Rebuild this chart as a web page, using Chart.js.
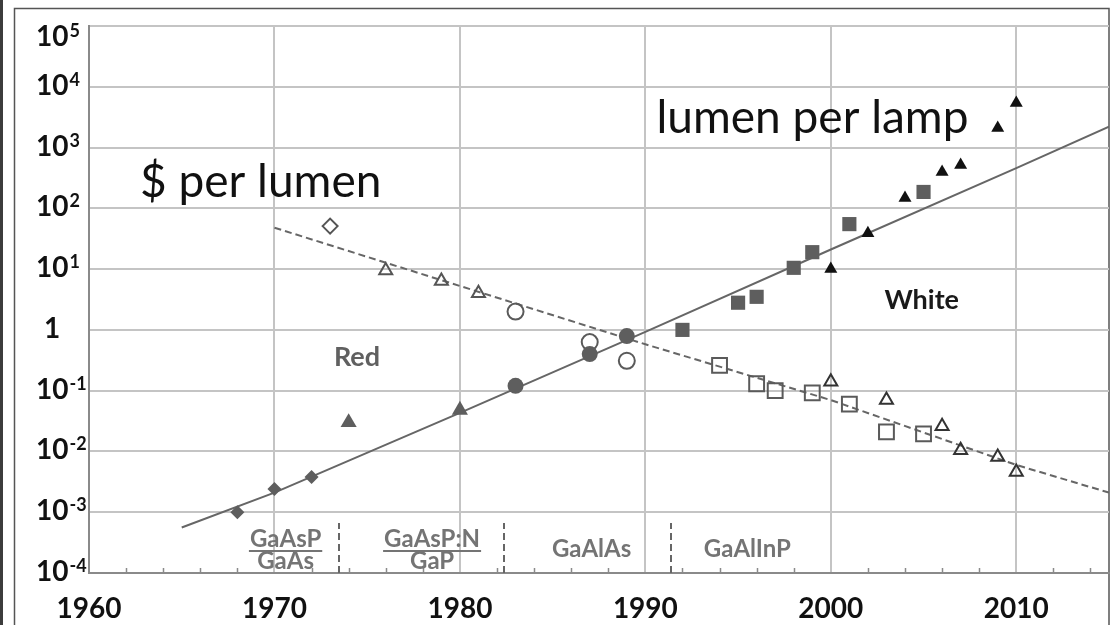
<!DOCTYPE html>
<html lang="en">
<head>
<meta charset="UTF-8">
<title>LED lumen per lamp and $ per lumen</title>
<style>
    html, body { margin: 0; padding: 0; background: #fff; }
    canvas { display: block; }
</style>
</head>
<body>
<canvas id="haitz" width="1112" height="625"></canvas>
<script src="https://cdn.jsdelivr.net/npm/chart.js"></script>
<script>
// axis ticks: decades on x, powers of ten on y (null exponent = plain "1")
const xTicks = [1960, 1970, 1980, 1990, 2000, 2010];
const yTicks = [1e-4, 1e-3, 1e-2, 1e-1, 1, 1e1, 1e2, 1e3, 1e4, 1e5];
const yTickExp = ['-4', '-3', '-2', '-1', null, '1', '2', '3', '4', '5'];

// lumen per lamp, filled markers
const gaaspYears = [1968, 1970, 1972];
const gaaspLumen = [0.001, 0.0024, 0.0038];
const redTriYears = [1974, 1980];
const redTriLumen = [0.03, 0.048];
const redCircYears = [1983, 1987, 1989];
const redCircLumen = [0.12, 0.40, 0.79];
const redSqYears = [1992, 1995, 1996, 1998, 1999, 2001, 2005];
const redSqLumen = [1.0, 2.8, 3.5, 10.5, 19, 55, 186];
const whiteYears = [2000, 2002, 2004, 2006, 2007, 2009, 2010];
const whiteLumen = [10, 39, 148, 396, 518, 2100, 5400];

// $ per lumen, hollow markers
const costDiaYears = [1973];
const costDiaVal = [51];
const costTriYears = [1976, 1979, 1981];
const costTriVal = [9.5, 6.4, 4.0];
const costCircYears = [1983, 1987, 1989];
const costCircVal = [2.0, 0.63, 0.31];
const costSqYears = [1994, 1996, 1997, 1999, 2001, 2003, 2005];
const costSqVal = [0.26, 0.13, 0.10, 0.092, 0.060, 0.021, 0.0195];
const costWhiteYears = [2000, 2003, 2006, 2007, 2009, 2010];
const costWhiteVal = [0.14, 0.070, 0.026, 0.0105, 0.0081, 0.0046];

// trend lines
const lampTrendYears = [1965, 1970, 1980, 1990, 2000, 2010, 2015];
const lampTrend = [5.6e-4, 2.1e-3, 0.043, 0.93, 21, 460, 2200];
const costTrendYears = [1970, 1990, 2000, 2010, 2015];
const costTrend = [48, 0.58, 0.07, 0.006, 0.0021];

const pts = (xs, ys) => xs.map((x, i) => ({ x: x, y: ys[i] }));

const DARK = '#5e5e5e';
const filled = (data, style, r, color) => ({
    data: data, pointStyle: style, pointRadius: r, pointBackgroundColor: color,
    pointBorderColor: color, pointBorderWidth: 0, showLine: false
});
const hollow = (data, style, r, color) => ({
    data: data, pointStyle: style, pointRadius: r, pointBackgroundColor: 'rgba(0,0,0,0)',
    pointBorderColor: color, pointBorderWidth: 2, showLine: false
});

// frame, y labels, minor ticks, material bands and text notes
const decor = {
    id: 'decor',
    beforeDraw(chart) {
        const c = chart.ctx;
        c.save();
        c.fillStyle = '#fff';
        c.fillRect(0, 0, chart.width, chart.height);
        c.fillStyle = '#3c3c3c';
        c.fillRect(0, 0, 3, chart.height);
        c.strokeStyle = '#555';
        c.lineWidth = 1.5;
        c.strokeRect(14.5, 8.5, chart.width - 17.5, chart.height + 20);
        c.restore();
    },
    afterDraw(chart) {
        const c = chart.ctx;
        const x = chart.scales.x, y = chart.scales.y;
        const area = chart.chartArea;
        c.save();

        // minor ticks every 2 years, pointing up into the plot
        c.strokeStyle = '#8a8a8a';
        c.lineWidth = 1.5;
        for (let yr = x.min + 2; yr < x.max; yr += 2) {
            if (yr % 10 === 0) continue;
            const px = Math.round(x.getPixelForValue(yr)) + 0.5;
            c.beginPath();
            c.moveTo(px, area.bottom);
            c.lineTo(px, area.bottom - 5);
            c.stroke();
        }

        // y axis labels with superscripts
        c.fillStyle = '#111';
        c.textAlign = 'left';
        c.textBaseline = 'alphabetic';
        yTicks.forEach((v, i) => {
            let py = y.getPixelForValue(v) - 2;
            if (i === yTicks.length - 1) py += 12;
            const exp = yTickExp[i];
            c.font = 'bold 28px Lato';
            if (exp === null) {
                c.fillText('1', 44, py + 10);
                return;
            }
            c.fillText('10', 36, py + 10);
            const w = c.measureText('10').width;
            c.font = 'bold 18px Lato';
            c.fillText(exp, 36 + w + 1, py + 1);
        });

        // material separators
        c.strokeStyle = '#666';
        c.lineWidth = 2;
        c.setLineDash([7, 4]);
        [1973.5, 1982.4, 1991.4].forEach(yr => {
            const px = Math.round(x.getPixelForValue(yr));
            c.beginPath();
            c.moveTo(px, area.bottom);
            c.lineTo(px, area.bottom - 50);
            c.stroke();
        });
        c.setLineDash([]);

        // material names
        c.fillStyle = '#747474';
        c.strokeStyle = '#747474';
        c.font = 'bold 24px Lato';
        c.textAlign = 'center';
        [['GaAsP', 'GaAs', 1970.6], ['GaAsP:N', 'GaP', 1978.5]].forEach(m => {
            const px = x.getPixelForValue(m[2]);
            c.fillText(m[0], px, area.bottom - 26);
            c.fillText(m[1], px, area.bottom - 4);
            const w = Math.max(c.measureText(m[0]).width, c.measureText(m[1]).width) + 2;
            c.lineWidth = 2;
            c.beginPath();
            c.moveTo(px - w / 2, area.bottom - 22);
            c.lineTo(px + w / 2, area.bottom - 22);
            c.stroke();
        });
        [['GaAlAs', 1987.1], ['GaAlInP', 1995.5]].forEach(m => {
            c.fillText(m[0], x.getPixelForValue(m[1]), area.bottom - 16);
        });

        // big notes
        c.textAlign = 'left';
        c.fillStyle = '#111';
        c.font = '46px Lato';
        c.fillText('$ per lumen', x.getPixelForValue(1962.75), y.getPixelForValue(Math.pow(10, 2.19)));
        c.fillText('lumen per lamp', x.getPixelForValue(1990.6), y.getPixelForValue(Math.pow(10, 3.24)));

        c.textAlign = 'center';
        c.textBaseline = 'middle';
        c.font = 'bold 27px Lato';
        c.fillStyle = '#606060';
        c.fillText('Red', x.getPixelForValue(1974.45), y.getPixelForValue(0.35));
        c.fillStyle = '#1a1a1a';
        c.fillText('White', x.getPixelForValue(2004.9), y.getPixelForValue(3.1));
        c.restore();
    }
};

const ctx = document.getElementById('haitz').getContext('2d');
const haitzChart = new Chart(ctx, {
    type: 'scatter',
    data: {
        datasets: [
            filled(pts(whiteYears, whiteLumen), 'triangle', 7.5, '#111'),
            filled(pts(redSqYears, redSqLumen), 'rect', 10, DARK),
            filled(pts(redCircYears, redCircLumen), 'circle', 8, DARK),
            filled(pts(redTriYears, redTriLumen), 'triangle', 9.3, DARK),
            filled(pts(gaaspYears, gaaspLumen), 'rectRot', 7, DARK),
            hollow(pts(costWhiteYears, costWhiteVal), 'triangle', 7.5, '#333'),
            hollow(pts(costSqYears, costSqVal), 'rect', 10.5, '#5a5a5a'),
            hollow(pts(costCircYears, costCircVal), 'circle', 8, '#5a5a5a'),
            hollow(pts(costTriYears, costTriVal), 'triangle', 7.5, '#555'),
            hollow(pts(costDiaYears, costDiaVal), 'rectRot', 7.5, '#555'),
            {
                data: pts(lampTrendYears, lampTrend), showLine: true, pointRadius: 0,
                borderColor: '#666', borderWidth: 2
            },
            {
                data: pts(costTrendYears, costTrend), showLine: true, pointRadius: 0,
                borderColor: '#666', borderWidth: 2, borderDash: [7, 4]
            }
        ]
    },
    options: {
        responsive: false,
        animation: false,
        layout: { autoPadding: false, padding: { top: 26, right: 3, left: 0, bottom: 0 } },
        plugins: { legend: { display: false }, tooltip: { enabled: false } },
        scales: {
            x: {
                type: 'linear',
                min: 1960,
                max: 2015,
                afterBuildTicks: s => { s.ticks = xTicks.map(v => ({ value: v })); },
                afterFit: s => { s.height = 52; s.paddingLeft = 0; s.paddingRight = 0; },
                ticks: {
                    autoSkip: false,
                    maxRotation: 0,
                    padding: 19,
                    color: '#111',
                    font: { family: 'Lato', size: 28, weight: 'bold' },
                    callback: v => String(v)
                },
                grid: { drawTicks: false, lineWidth: 2, color: '#c4c4c4' },
                border: { color: '#8a8a8a', width: 2 }
            },
            y: {
                type: 'logarithmic',
                min: 1e-4,
                max: 1e5,
                afterBuildTicks: s => { s.ticks = yTicks.map(v => ({ value: v })); },
                afterFit: s => { s.width = 89; },
                ticks: { display: false },
                grid: { drawTicks: false, lineWidth: 2, color: '#c4c4c4' },
                border: { color: '#8a8a8a', width: 2 }
            }
        }
    },
    plugins: [decor]
});
</script>
</body>
</html>
